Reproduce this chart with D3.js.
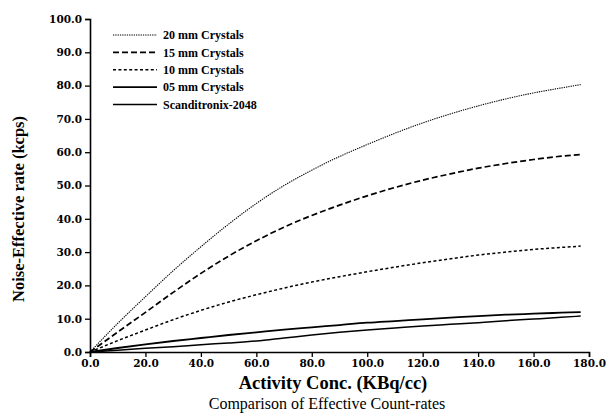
<!DOCTYPE html>
<html>
<head>
<meta charset="utf-8">
<title>Comparison of Effective Count-rates</title>
<style>
body {margin: 0; background: #fff;}
</style>
</head>
<body>
<div id="chart"></div>
<script src="https://cdn.jsdelivr.net/npm/d3@7"></script>
<script>
// activity concentration (KBq/cc)
var activity = [0, 10, 20, 30, 40, 50, 60, 70, 80, 90, 100, 110, 120, 130, 140, 150, 160, 170, 177];
// noise-effective rates (kcps)
var crystals20 = [0, 8.6, 16.6, 24.4, 31.6, 38.4, 44.6, 50.0, 54.6, 58.7, 62.3, 65.7, 68.8, 71.5, 73.9, 76.0, 77.8, 79.3, 80.3];
var crystals15 = [0, 6.0, 11.9, 17.9, 23.6, 28.8, 33.4, 37.5, 41.0, 44.1, 46.9, 49.4, 51.6, 53.5, 55.2, 56.6, 57.8, 58.8, 59.3];
var crystals10 = [0, 3.4, 6.6, 9.7, 12.5, 15.0, 17.2, 19.2, 21.0, 22.6, 24.1, 25.5, 26.8, 28.0, 29.1, 30.0, 30.8, 31.4, 31.8];
var crystals05 = [0, 1.2, 2.3, 3.3, 4.2, 5.1, 5.9, 6.7, 7.4, 8.1, 8.8, 9.3, 9.8, 10.3, 10.8, 11.2, 11.5, 11.8, 12.0];
var scanditronix = [0, 0.5, 1.1, 1.6, 2.2, 2.7, 3.3, 4.2, 5.1, 5.9, 6.6, 7.2, 7.8, 8.3, 8.8, 9.4, 9.9, 10.4, 10.8];

var seriesNames = ['20 mm Crystals', '15 mm Crystals', '10 mm Crystals', '05 mm Crystals', 'Scanditronix-2048'];
var seriesValues = [crystals20, crystals15, crystals10, crystals05, scanditronix];
var dashes = ['1.3,1', '6,3', '3,2.4', null, null];
var widths = [1.1, 1.7, 1.5, 1.8, 1.5];

var xTicks = d3.range(0, 181, 20);
var yTicks = d3.range(0, 101, 10);

var width = 608, height = 415;
var serif = '"Liberation Serif", "Times New Roman", serif';

var svg = d3.select('#chart').append('svg')
	.attr('width', width)
	.attr('height', height);

var x = d3.scaleLinear().domain([0, 180]).range([90, 589]);
var y = d3.scaleLinear().domain([0, 100]).range([352, 19]);

var xAxis = svg.append('g')
	.attr('transform', 'translate(0,' + y(0) + ')')
	.call(d3.axisBottom(x).tickValues(xTicks).tickFormat(d3.format('.1f')).tickSizeOuter(0).tickSize(5).tickPadding(3));
var yAxis = svg.append('g')
	.attr('transform', 'translate(' + x(0) + ',0)')
	.call(d3.axisLeft(y).tickValues(yTicks).tickFormat(d3.format('.1f')).tickSizeOuter(0).tickSize(5).tickPadding(3));

[xAxis, yAxis].forEach(function(a) {
	a.select('.domain').attr('stroke', '#000').attr('stroke-width', 1.6);
	a.selectAll('.tick line').attr('stroke', '#000').attr('stroke-width', 1.3);
	a.selectAll('.tick text')
		.attr('fill', '#000')
		.style('font-family', '"DejaVu Serif", serif')
		.style('font-weight', 'bold')
		.style('font-size', '10.5px');
});

var line = d3.line()
	.x(function(d, i) { return x(activity[i]); })
	.y(function(d) { return y(d); })
	.curve(d3.curveMonotoneX);

svg.selectAll('path.series')
	.data(seriesValues)
	.enter()
	.append('path')
	.attr('class', 'series')
	.attr('fill', 'none')
	.attr('stroke', '#000')
	.attr('stroke-width', function(d, i) { return widths[i]; })
	.attr('stroke-dasharray', function(d, i) { return dashes[i]; })
	.attr('d', line);

var legend = svg.selectAll('.legend')
	.data(seriesNames)
	.enter()
	.append('g')
	.attr('class', 'legend')
	.attr('transform', function(d, i) {
		return 'translate(113,' + (35 + i * 17.4) + ')';
	});

legend.append('line')
	.attr('x1', 0)
	.attr('x2', 44)
	.attr('stroke', '#000')
	.attr('stroke-width', function(d, i) { return widths[i]; })
	.attr('stroke-dasharray', function(d, i) { return dashes[i]; });

legend.append('text')
	.attr('x', 50)
	.attr('dy', '0.35em')
	.style('font-family', serif)
	.style('font-weight', 'bold')
	.style('font-size', '12px')
	.text(function(d) { return d; });

svg.append('text')
	.attr('transform', 'translate(24,209) rotate(-90)')
	.attr('text-anchor', 'middle')
	.style('font-family', serif)
	.style('font-weight', 'bold')
	.style('font-size', '16.5px')
	.text('Noise-Effective rate (kcps)');

svg.append('text')
	.attr('x', 333)
	.attr('y', 389)
	.attr('text-anchor', 'middle')
	.style('font-family', serif)
	.style('font-weight', 'bold')
	.style('font-size', '18.5px')
	.text('Activity Conc. (KBq/cc)');

svg.append('text')
	.attr('x', 327)
	.attr('y', 409)
	.attr('text-anchor', 'middle')
	.style('font-family', serif)
	.style('font-size', '16px')
	.text('Comparison of Effective Count-rates');
</script>
</body>
</html>
